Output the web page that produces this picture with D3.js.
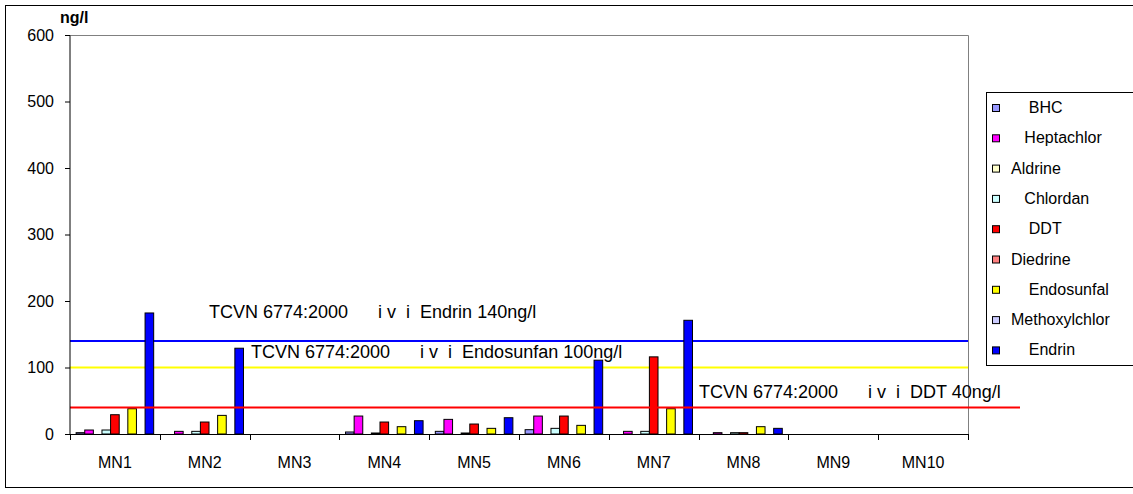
<!DOCTYPE html>
<html>
<head>
<meta charset="utf-8">
<script src="https://cdn.jsdelivr.net/npm/d3@7"></script>
<style>
  html, body { margin: 0; padding: 0; background: #fff; }
  svg { display: block; font-family: "Liberation Sans", Arial, sans-serif; }
  text { white-space: pre; }
</style>
</head>
<body>
<svg id="chart" width="1133" height="494"></svg>
<script>
// Sampling stations
const categories = ["MN1", "MN2", "MN3", "MN4", "MN5", "MN6", "MN7", "MN8", "MN9", "MN10"];

// Pesticide series (legend labels keep their leading spaces)
const seriesNames = ["BHC", "Heptachlor", "Aldrine", "Chlordan", "DDT", "Diedrine", "Endosunfal", "Methoxylchlor", "Endrin"];
const legendLabels = ["    BHC", "   Heptachlor", "Aldrine", "   Chlordan", "    DDT", "Diedrine", "    Endosunfal", "Methoxylchlor", "    Endrin"];
const seriesColors = ["#9999FF", "#FF00FF", "#FFFFCC", "#CCFFFF", "#FF0000", "#FF8080", "#FFFF00", "#CCCCFF", "#0000FF"];

// Concentrations, ng/l, one array per pesticide (MN1..MN10)
const BHC           = [2, 0, 0, 3, 4, 6.5, 0, 0, 0, 0];
const Heptachlor    = [6, 4, 0, 27, 22, 27, 4, 2, 0, 0];
const Aldrine       = [0, 0, 0, 0, 0, 0, 0, 0, 0, 0];
const Chlordan      = [6, 4, 0, 1.5, 1.5, 8.5, 4, 2, 0, 0];
const DDT           = [29, 18, 0, 18, 15, 27, 116, 2, 0, 0];
const Diedrine      = [0, 0, 0, 0, 0, 0, 0, 0, 0, 0];
const Endosunfal    = [38, 28, 0, 11, 8.5, 13, 38, 11, 0, 0];
const Methoxylchlor = [0, 0, 0, 0, 0, 0, 0, 0, 0, 0];
const Endrin        = [182, 129, 0, 20, 24.5, 111, 171, 8.5, 0, 0];
const seriesValues = [BHC, Heptachlor, Aldrine, Chlordan, DDT, Diedrine, Endosunfal, Methoxylchlor, Endrin];

// Y axis
const yTicks = [0, 100, 200, 300, 400, 500, 600];
const yMax = 600;
const yUnit = "ng/l";

// TCVN 6774:2000 limit lines
const limitValues = [140, 100, 40];
const limitColors = ["#0000FF", "#FFFF00", "#FF0000"];
const limitLabels = [
  "TCVN 6774:2000      i v  i  Endrin 140ng/l",
  "TCVN 6774:2000      i v  i  Endosunfan 100ng/l",
  "TCVN 6774:2000      i v  i  DDT 40ng/l"
];

const svg = d3.select("#chart");
const plot = { left: 70, right: 968, top: 35, bottom: 434 };

// Chart border
svg.append("rect")
  .attr("x", 5.5).attr("y", 5.5).attr("width", 1140).attr("height", 482)
  .attr("fill", "#fff").attr("stroke", "#000").attr("stroke-width", 1);

const x = d3.scaleBand().domain(categories).range([plot.left, plot.right]).paddingInner(0).paddingOuter(0);
const xs = d3.scaleBand().domain(seriesNames).range([0, x.bandwidth()]).paddingInner(0).paddingOuter(0.71);
const y = d3.scaleLinear().domain([0, yMax]).range([plot.bottom, plot.top]);

// Plot area frame (top and right edges in grey)
svg.append("path")
  .attr("d", `M${plot.left},${plot.top + 0.5}H${plot.right + 0.5}V${plot.bottom}`)
  .attr("fill", "none").attr("stroke", "#808080").attr("stroke-width", 1);

// Limit line drawing helper
const limitLine = (i, x2) => svg.append("line")
  .attr("x1", plot.left).attr("x2", x2)
  .attr("y1", y(limitValues[i])).attr("y2", y(limitValues[i]))
  .attr("stroke", limitColors[i]).attr("stroke-width", 2);

limitLine(0, plot.right);
limitLine(1, plot.right);

// Bars
const groups = svg.append("g").selectAll("g")
  .data(seriesNames)
  .join("g")
  .attr("fill", (d, i) => seriesColors[i]);

groups.each(function (name, si) {
  d3.select(this).selectAll("rect")
    .data(seriesValues[si].map((v, ci) => ({ v, cat: categories[ci] })).filter(d => d.v > 0))
    .join("rect")
    .attr("x", d => x(d.cat) + xs(name))
    .attr("width", xs.bandwidth())
    .attr("y", d => y(d.v))
    .attr("height", d => y(0) - y(d.v))
    .attr("stroke", "#000")
    .attr("stroke-width", 1);
});

limitLine(2, 1020);

// Y axis
const yAxis = d3.axisLeft(y).tickValues(yTicks).tickSize(5).tickPadding(11);
const gy = svg.append("g").attr("transform", `translate(${plot.left},0)`).call(yAxis);
gy.select(".domain").attr("stroke", "#000").attr("d", `M-5,${plot.top + 0.5}H0V${plot.bottom}`);
gy.selectAll(".tick line").attr("stroke", "#000");
gy.selectAll(".tick text").attr("font-size", 16).attr("fill", "#000")
  .attr("font-family", "'Liberation Sans', Arial, sans-serif");

// X axis with ticks between categories
const gx = svg.append("g");
gx.append("line")
  .attr("x1", plot.left).attr("x2", plot.right)
  .attr("y1", plot.bottom + 0.5).attr("y2", plot.bottom + 0.5)
  .attr("stroke", "#000");
gx.selectAll("line.tick")
  .data(categories.concat([null]))
  .join("line")
  .attr("class", "tick")
  .attr("x1", (d, i) => Math.round(plot.left + i * x.step()) + 0.5)
  .attr("x2", (d, i) => Math.round(plot.left + i * x.step()) + 0.5)
  .attr("y1", plot.bottom).attr("y2", plot.bottom + 6)
  .attr("stroke", "#000");
gx.selectAll("text")
  .data(categories)
  .join("text")
  .attr("x", d => x(d) + x.bandwidth() / 2)
  .attr("y", 468)
  .attr("text-anchor", "middle")
  .attr("font-size", 16)
  .text(d => d);

// Unit label
svg.append("text")
  .attr("x", 60).attr("y", 23)
  .attr("font-size", 16).attr("font-weight", "bold")
  .text(yUnit);

// Limit labels
const labelPos = [[209, 318], [251, 358], [699, 398]];
svg.selectAll("text.limit")
  .data(limitLabels)
  .join("text")
  .attr("class", "limit")
  .attr("x", (d, i) => labelPos[i][0])
  .attr("y", (d, i) => labelPos[i][1])
  .attr("font-size", 18)
  .text(d => d);

// Legend
const legend = svg.append("g");
legend.append("rect")
  .attr("x", 986.5).attr("y", 92.5).attr("width", 160).attr("height", 273)
  .attr("fill", "#fff").attr("stroke", "#000");
const rowStep = 30.3;
const rows = legend.selectAll("g.row")
  .data(seriesNames)
  .join("g")
  .attr("class", "row")
  .attr("transform", (d, i) => `translate(0,${108 + i * rowStep})`);
rows.append("rect")
  .attr("x", 992.5).attr("y", -3.5).attr("width", 7).attr("height", 7)
  .attr("fill", (d, i) => seriesColors[i])
  .attr("stroke", "#000");
rows.append("text")
  .attr("x", 1011).attr("y", 5)
  .attr("font-size", 16)
  .text((d, i) => legendLabels[i]);
</script>
</body>
</html>
